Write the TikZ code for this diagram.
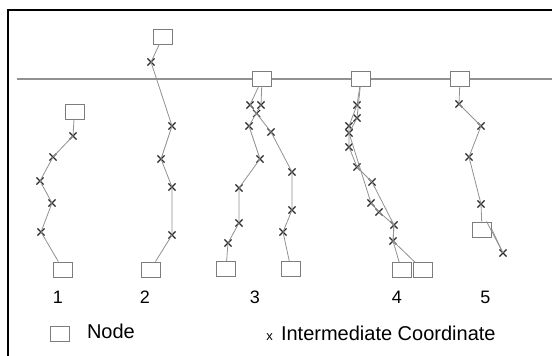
\documentclass[tikz,border=0pt]{standalone}
\usepackage{fontspec}
\setmainfont{Liberation Sans}
\usepackage{tikz}
\usetikzlibrary{shapes.misc}
\usepackage{xcolor}
\definecolor{lineGray}{RGB}{145,145,145}
\definecolor{boxGray}{RGB}{125,125,125}
\definecolor{markGray}{RGB}{40,40,40}

\begin{document}
\begin{tikzpicture}[
  x=1pt,y=-1pt,
  every node/.style={font=\fontsize{18}{20}\selectfont},
  nodebox/.style={draw=boxGray,fill=white,line width=0.9pt,minimum width=19pt,minimum height=15pt,inner sep=0pt},
  imc/.style={draw=markGray,cross out,line width=1.1pt,minimum size=6pt,inner sep=0pt},
  link/.style={draw=lineGray,line width=0.8pt}
]
\useasboundingbox (0,0) rectangle (552,356);
% frame and ground line
\draw[line width=2.5pt] (8,357) -- (8,10) -- (553,10);
\draw[lineGray,line width=1.1pt] (17,79) -- (552,79);

% structure 1
\node[nodebox] (t1) at (74.5,111.5) {};
\node[nodebox] (b1) at (63,269.5) {};
\node[imc] (x11) at (73,136) {};
\node[imc] (x12) at (53,157) {};
\node[imc] (x13) at (40,181) {};
\node[imc] (x14) at (52,203) {};
\node[imc] (x15) at (41,232) {};
\draw[link] (t1) -- (x11.center) -- (x12.center) -- (x13.center) -- (x14.center) -- (x15.center) -- (b1);

% structure 2
\node[nodebox] (t2) at (163,36.5) {};
\node[nodebox] (b2) at (150.5,269.5) {};
\node[imc] (x21) at (151,62) {};
\node[imc] (x22) at (172,126) {};
\node[imc] (x23) at (161,159) {};
\node[imc] (x24) at (172,187) {};
\node[imc] (x25) at (172,235) {};
\draw[link] (t2) -- (x21.center) -- (x22.center) -- (x23.center) -- (x24.center) -- (x25.center) -- (b2);

% structure 3
\node[nodebox] (t3) at (262,79.3) {};
\node[nodebox] (b3l) at (226,269) {};
\node[nodebox] (b3r) at (291,269) {};
\node[imc] (x31) at (261,105) {};
\node[imc] (x32) at (249,126) {};
\node[imc] (x33) at (260,159) {};
\node[imc] (x34) at (239,188) {};
\node[imc] (x35) at (239,223) {};
\node[imc] (x36) at (228,243) {};
\node[imc] (x37) at (250,105) {};
\node[imc] (x38) at (256.6,113.5) {};
\node[imc] (x39) at (271,132) {};
\node[imc] (x310) at (292,172) {};
\node[imc] (x311) at (292,210) {};
\node[imc] (x312) at (283,232) {};
\draw[link] (t3) -- (x31.center) -- (x32.center) -- (x33.center) -- (x34.center) -- (x35.center) -- (x36.center) -- (b3l);
\draw[link] (t3) -- (x37.center) -- (x38.center) -- (x39.center) -- (x310.center) -- (x311.center) -- (x312.center) -- (b3r);

% structure 4
\node[nodebox] (t4) at (361,79.3) {};
\node[nodebox] (b4l) at (401.5,270) {};
\node[nodebox] (b4r) at (423,270) {};
\node[imc] (x41) at (357,105) {};
\node[imc] (x42) at (349,126) {};
\node[imc] (x43) at (349,147) {};
\node[imc] (x44) at (357,167) {};
\node[imc] (x45) at (372,182) {};
\node[imc] (x46) at (394,225) {};
\node[imc] (x47) at (393,241) {};
\node[imc] (x48) at (357,118) {};
\node[imc] (x49) at (349,133) {};
\node[imc] (x410) at (371,203) {};
\node[imc] (x411) at (379,212) {};
\draw[link] (t4) -- (x41.center) -- (x42.center) -- (x43.center) -- (x44.center) -- (x45.center) -- (x46.center) -- (x47.center) -- (b4r);
\draw[link] (t4) -- (x48.center) -- (x49.center) -- (x410.center) -- (x411.center) -- (x46.center) -- (x47.center) -- (b4l);

% structure 5
\node[nodebox] (t5) at (460,79.3) {};
\node[nodebox] (b5) at (482,229.5) {};
\node[imc] (x51) at (459,104) {};
\node[imc] (x52) at (481,126) {};
\node[imc] (x53) at (469,157) {};
\node[imc] (x54) at (481,204) {};
\node[imc] (x55) at (503,253) {};
\draw[link] (t5) -- (x51.center) -- (x52.center) -- (x53.center) -- (x54.center) -- (b5);
\draw[link] (b5.60) -- (x55.center);
\draw[link] (b5.east) -- (x55.center);

% numbers
\node (l1) at (58,297) {1};
\node (l2) at (145,297) {2};
\node (l3) at (255,297) {3};
\node (l4) at (397,297) {4};
\node (l5) at (485.5,297) {5};

% legend
\node[nodebox] (kbox) at (60.3,334) {};
\node[anchor=base west,font=\fontsize{20}{22}\selectfont] (ktxt) at (83.5,338.5) {Node};
\node[anchor=base,font=\fontsize{13}{14}\selectfont,inner sep=0pt] (kx) at (269.5,340) {x};
\node[anchor=base west,font=\fontsize{20}{22}\selectfont] (kimc) at (277.5,340.5) {Intermediate Coordinate};
\end{tikzpicture}
\end{document}
